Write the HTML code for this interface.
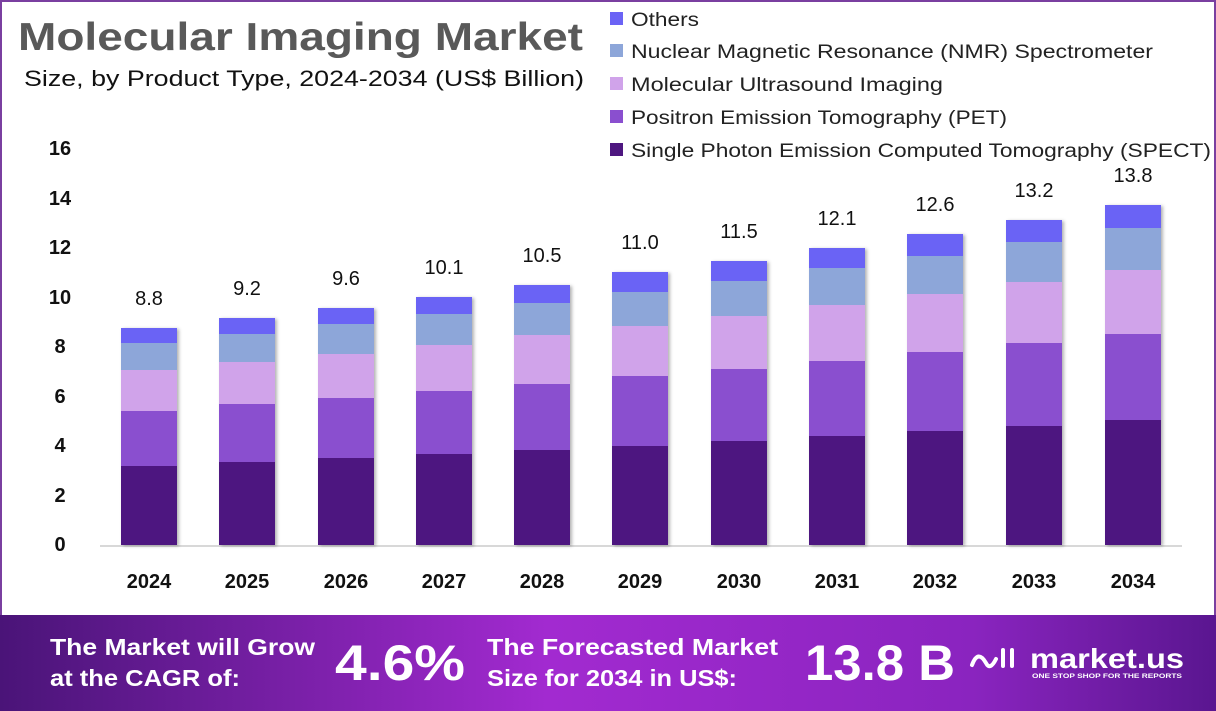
<!DOCTYPE html>
<html><head><meta charset="utf-8"><style>
html,body{margin:0;padding:0;background:#fff}
svg{display:block;font-family:"Liberation Sans",sans-serif}
</style></head><body>
<svg width="1216" height="711" viewBox="0 0 1216 711" xmlns="http://www.w3.org/2000/svg">
<defs>
<linearGradient id="bg" x1="0" x2="1" y1="0" y2="0">
<stop offset="0" stop-color="#4a1478"/><stop offset="0.45" stop-color="#a22ad0"/><stop offset="0.8" stop-color="#8a24bf"/><stop offset="1" stop-color="#5a1690"/>
</linearGradient>
<filter id="sh" x="-10%" y="-5%" width="130%" height="110%"><feDropShadow dx="2" dy="1" stdDeviation="1.5" flood-opacity="0.3"/></filter>
</defs>
<rect x="1" y="1" width="1214" height="709" fill="#fff" stroke="#7a3fa0" stroke-width="2"/>
<text x="18" y="50" font-size="39" font-weight="bold" fill="#595959" textLength="565" lengthAdjust="spacingAndGlyphs">Molecular Imaging Market</text>
<text x="24" y="86" font-size="22" fill="#111" textLength="560" lengthAdjust="spacingAndGlyphs">Size, by Product Type, 2024-2034 (US$ Billion)</text>
<g font-size="19" fill="#222">
<rect x="610" y="12" width="13" height="13" fill="#6b63f5"/><text x="631" y="26" textLength="68" lengthAdjust="spacingAndGlyphs">Others</text>
<rect x="610" y="44" width="13" height="13" fill="#8da6d9"/><text x="631" y="58" textLength="522" lengthAdjust="spacingAndGlyphs">Nuclear Magnetic Resonance (NMR) Spectrometer</text>
<rect x="610" y="77" width="13" height="13" fill="#d0a3ea"/><text x="631" y="91" textLength="312" lengthAdjust="spacingAndGlyphs">Molecular Ultrasound Imaging</text>
<rect x="610" y="110" width="13" height="13" fill="#8a4fcf"/><text x="631" y="124" textLength="376" lengthAdjust="spacingAndGlyphs">Positron Emission Tomography (PET)</text>
<rect x="610" y="143" width="13" height="13" fill="#4e1780"/><text x="631" y="157" textLength="580" lengthAdjust="spacingAndGlyphs">Single Photon Emission Computed Tomography (SPECT)</text>
</g>
<g font-size="20" font-weight="bold" fill="#111" text-anchor="middle">
<text x="60" y="155">16</text><text x="60" y="205">14</text><text x="60" y="254">12</text><text x="60" y="304">10</text>
<text x="60" y="353">8</text><text x="60" y="403">6</text><text x="60" y="452">4</text><text x="60" y="502">2</text><text x="60" y="551">0</text>
</g>
<line x1="100" y1="546" x2="1182" y2="546" stroke="#ccc" stroke-width="1.5"/>
<g filter="url(#sh)">
<rect x="121" y="466" width="56" height="79" fill="#4e1780"/><rect x="121" y="411" width="56" height="55" fill="#8a4fcf"/><rect x="121" y="370" width="56" height="41" fill="#d0a3ea"/><rect x="121" y="343" width="56" height="27" fill="#8da6d9"/><rect x="121" y="328" width="56" height="15" fill="#6b63f5"/>
</g><g filter="url(#sh)">
<rect x="219" y="462" width="56" height="83" fill="#4e1780"/><rect x="219" y="404" width="56" height="58" fill="#8a4fcf"/><rect x="219" y="362" width="56" height="42" fill="#d0a3ea"/><rect x="219" y="334" width="56" height="28" fill="#8da6d9"/><rect x="219" y="318" width="56" height="16" fill="#6b63f5"/>
</g><g filter="url(#sh)">
<rect x="318" y="458" width="56" height="87" fill="#4e1780"/><rect x="318" y="398" width="56" height="60" fill="#8a4fcf"/><rect x="318" y="354" width="56" height="44" fill="#d0a3ea"/><rect x="318" y="324" width="56" height="30" fill="#8da6d9"/><rect x="318" y="308" width="56" height="16" fill="#6b63f5"/>
</g><g filter="url(#sh)">
<rect x="416" y="454" width="56" height="91" fill="#4e1780"/><rect x="416" y="391" width="56" height="63" fill="#8a4fcf"/><rect x="416" y="345" width="56" height="46" fill="#d0a3ea"/><rect x="416" y="314" width="56" height="31" fill="#8da6d9"/><rect x="416" y="297" width="56" height="17" fill="#6b63f5"/>
</g><g filter="url(#sh)">
<rect x="514" y="450" width="56" height="95" fill="#4e1780"/><rect x="514" y="384" width="56" height="66" fill="#8a4fcf"/><rect x="514" y="335" width="56" height="49" fill="#d0a3ea"/><rect x="514" y="303" width="56" height="32" fill="#8da6d9"/><rect x="514" y="285" width="56" height="18" fill="#6b63f5"/>
</g><g filter="url(#sh)">
<rect x="612" y="446" width="56" height="99" fill="#4e1780"/><rect x="612" y="376" width="56" height="70" fill="#8a4fcf"/><rect x="612" y="326" width="56" height="50" fill="#d0a3ea"/><rect x="612" y="292" width="56" height="34" fill="#8da6d9"/><rect x="612" y="272" width="56" height="20" fill="#6b63f5"/>
</g><g filter="url(#sh)">
<rect x="711" y="441" width="56" height="104" fill="#4e1780"/><rect x="711" y="369" width="56" height="72" fill="#8a4fcf"/><rect x="711" y="316" width="56" height="53" fill="#d0a3ea"/><rect x="711" y="281" width="56" height="35" fill="#8da6d9"/><rect x="711" y="261" width="56" height="20" fill="#6b63f5"/>
</g><g filter="url(#sh)">
<rect x="809" y="436" width="56" height="109" fill="#4e1780"/><rect x="809" y="361" width="56" height="75" fill="#8a4fcf"/><rect x="809" y="305" width="56" height="56" fill="#d0a3ea"/><rect x="809" y="268" width="56" height="37" fill="#8da6d9"/><rect x="809" y="248" width="56" height="20" fill="#6b63f5"/>
</g><g filter="url(#sh)">
<rect x="907" y="431" width="56" height="114" fill="#4e1780"/><rect x="907" y="352" width="56" height="79" fill="#8a4fcf"/><rect x="907" y="294" width="56" height="58" fill="#d0a3ea"/><rect x="907" y="256" width="56" height="38" fill="#8da6d9"/><rect x="907" y="234" width="56" height="22" fill="#6b63f5"/>
</g><g filter="url(#sh)">
<rect x="1006" y="426" width="56" height="119" fill="#4e1780"/><rect x="1006" y="343" width="56" height="83" fill="#8a4fcf"/><rect x="1006" y="282" width="56" height="61" fill="#d0a3ea"/><rect x="1006" y="242" width="56" height="40" fill="#8da6d9"/><rect x="1006" y="220" width="56" height="22" fill="#6b63f5"/>
</g><g filter="url(#sh)">
<rect x="1105" y="420" width="56" height="125" fill="#4e1780"/><rect x="1105" y="334" width="56" height="86" fill="#8a4fcf"/><rect x="1105" y="270" width="56" height="64" fill="#d0a3ea"/><rect x="1105" y="228" width="56" height="42" fill="#8da6d9"/><rect x="1105" y="205" width="56" height="23" fill="#6b63f5"/>
</g>
<g font-size="20" text-anchor="middle" fill="#111">
<text x="149" y="305">8.8</text><text x="247" y="295">9.2</text><text x="346" y="285">9.6</text><text x="444" y="274">10.1</text><text x="542" y="262">10.5</text><text x="640" y="249">11.0</text><text x="739" y="238">11.5</text><text x="837" y="225">12.1</text><text x="935" y="211">12.6</text><text x="1034" y="197">13.2</text><text x="1133" y="182">13.8</text>
</g>
<g font-size="20" font-weight="bold" text-anchor="middle" fill="#111">
<text x="149" y="588">2024</text><text x="247" y="588">2025</text><text x="346" y="588">2026</text><text x="444" y="588">2027</text><text x="542" y="588">2028</text><text x="640" y="588">2029</text><text x="739" y="588">2030</text><text x="837" y="588">2031</text><text x="935" y="588">2032</text><text x="1034" y="588">2033</text><text x="1133" y="588">2034</text>
</g>
<rect x="0" y="615" width="1216" height="96" fill="url(#bg)"/>
<g fill="#fff" font-weight="bold">
<text x="50" y="655" font-size="23" textLength="265" lengthAdjust="spacingAndGlyphs">The Market will Grow</text>
<text x="50" y="686" font-size="23" textLength="190" lengthAdjust="spacingAndGlyphs">at the CAGR of:</text>
<text x="335" y="680" font-size="50" textLength="130" lengthAdjust="spacingAndGlyphs">4.6%</text>
<text x="487" y="655" font-size="23" textLength="291" lengthAdjust="spacingAndGlyphs">The Forecasted Market</text>
<text x="487" y="686" font-size="23" textLength="250" lengthAdjust="spacingAndGlyphs">Size for 2034 in US$:</text>
<text x="805" y="680" font-size="50" textLength="150" lengthAdjust="spacingAndGlyphs">13.8 B</text>
<text x="1030" y="668" font-size="28" textLength="154" lengthAdjust="spacingAndGlyphs">market.us</text>
<text x="1032" y="678" font-size="6.5" textLength="150" lengthAdjust="spacingAndGlyphs">ONE STOP SHOP FOR THE REPORTS</text>
<path d="M972 665 q6 -16 14 -2 q4 8 10 -4 M1003 650 v16 M1012 650 v16" stroke="#fff" stroke-width="4" fill="none" stroke-linecap="round"/>
</g>
</svg>
</body></html>
